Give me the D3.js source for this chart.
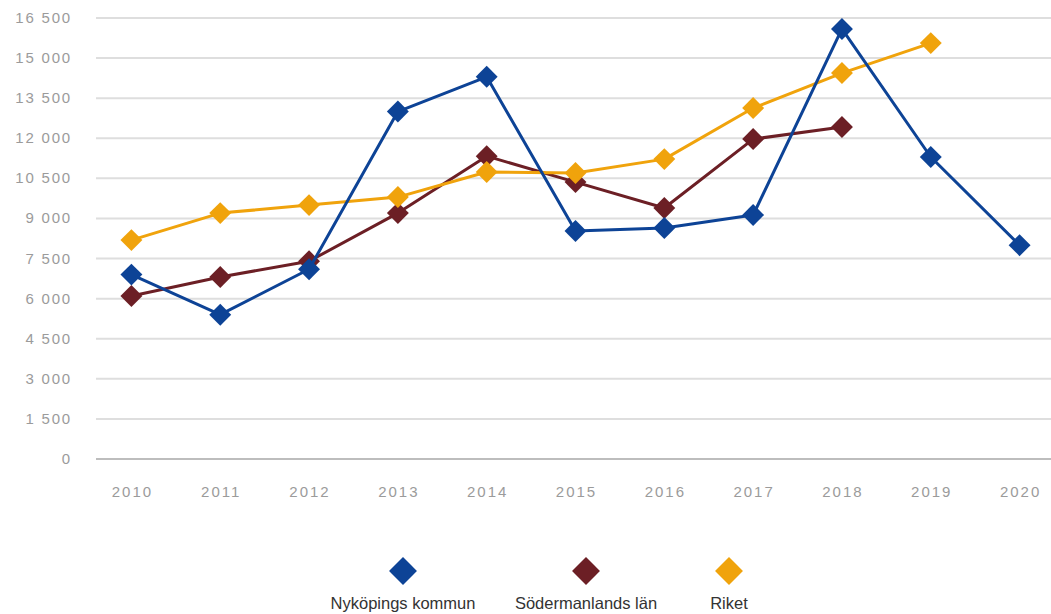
<!DOCTYPE html>
<html>
<head>
<meta charset="utf-8">
<script src="https://cdn.jsdelivr.net/npm/d3@7"></script>
<style>
  body { margin: 0; background: #fff; }
  text { font-family: "Liberation Sans", Arial, sans-serif; }
</style>
</head>
<body>
<div class="chart"></div>
<script>
'use strict'
var years = ['2010', '2011', '2012', '2013', '2014', '2015', '2016', '2017', '2018', '2019', '2020']
var yTicks = [0, 1500, 3000, 4500, 6000, 7500, 9000, 10500, 12000, 13500, 15000, 16500]
var nykoping = [6900, 5400, 7100, 13000, 14300, 8530, 8640, 9130, 16090, 11300, 8000]
var sodermanland = [6100, 6810, 7400, 9200, 11330, 10360, 9390, 11970, 12420]
var riket = [8190, 9200, 9500, 9800, 10740, 10700, 11220, 13130, 14440, 15560]
var seriesNames = ['Nyköpings kommun', 'Södermanlands län', 'Riket']
var seriesColors = ['#0d4396', '#6c1f25', '#f0a30c']

var width = 1051
var height = 614

var svg = d3.select('.chart').append('svg')
  .attr('width', width)
  .attr('height', height)

var x = d3.scaleBand().domain(years).range([87, 1064])
var y = d3.scaleLinear().domain([0, 16500]).range([459, 18])
var cx = function (i) { return x(years[i]) + x.bandwidth() / 2 }

// gridlines
svg.append('g').selectAll('line')
  .data(yTicks)
  .enter().append('line')
  .attr('x1', 96)
  .attr('x2', width)
  .attr('y1', function (d) { return y(d) })
  .attr('y2', function (d) { return y(d) })
  .attr('stroke', function (d) { return d === 0 ? '#bdbdbd' : '#dedede' })
  .attr('stroke-width', 2)

var fmt = function (d) {
  return d >= 1000 ? Math.floor(d / 1000) + ' ' + d3.format('03')(d % 1000) : String(d)
}

// y axis labels
svg.append('g').selectAll('text')
  .data(yTicks)
  .enter().append('text')
  .attr('x', 72)
  .attr('y', function (d) { return y(d) + 5 })
  .attr('text-anchor', 'end')
  .attr('fill', '#9b9b9b')
  .style('font-size', '15px')
  .style('letter-spacing', '1.8px')
  .text(fmt)

// x axis labels
svg.append('g').selectAll('text')
  .data(years)
  .enter().append('text')
  .attr('x', function (d, i) { return cx(i) + 1 })
  .attr('y', 497)
  .attr('text-anchor', 'middle')
  .attr('fill', '#9b9b9b')
  .style('font-size', '15px')
  .style('letter-spacing', '2px')
  .text(function (d) { return d })

var diamond = d3.symbol().type(d3.symbolSquare).size(240)

var drawSeries = function (values, color) {
  var g = svg.append('g')
  var line = d3.line()
    .x(function (d, i) { return cx(i) })
    .y(function (d) { return y(d) })
  g.append('path')
    .datum(values)
    .attr('d', line)
    .attr('fill', 'none')
    .attr('stroke', color)
    .attr('stroke-width', 3)
    .attr('stroke-linejoin', 'round')
  g.selectAll('path.pt')
    .data(values)
    .enter().append('path')
    .attr('class', 'pt')
    .attr('d', diamond)
    .attr('transform', function (d, i) { return 'translate(' + cx(i) + ',' + y(d) + ') rotate(45)' })
    .attr('fill', color)
}

drawSeries(sodermanland, seriesColors[1])
drawSeries(riket, seriesColors[2])
drawSeries(nykoping, seriesColors[0])

// legend
var legendX = [403, 586, 729]
var legend = svg.append('g').selectAll('g')
  .data(seriesNames)
  .enter().append('g')
  .attr('transform', function (d, i) { return 'translate(' + legendX[i] + ',0)' })
legend.append('path')
  .attr('d', d3.symbol().type(d3.symbolSquare).size(390))
  .attr('transform', 'translate(0,571) rotate(45)')
  .attr('fill', function (d, i) { return seriesColors[i] })
legend.append('text')
  .attr('y', 609)
  .attr('text-anchor', 'middle')
  .attr('fill', '#333')
  .style('font-size', '16.5px')
  .text(function (d) { return d })
</script>
</body>
</html>
